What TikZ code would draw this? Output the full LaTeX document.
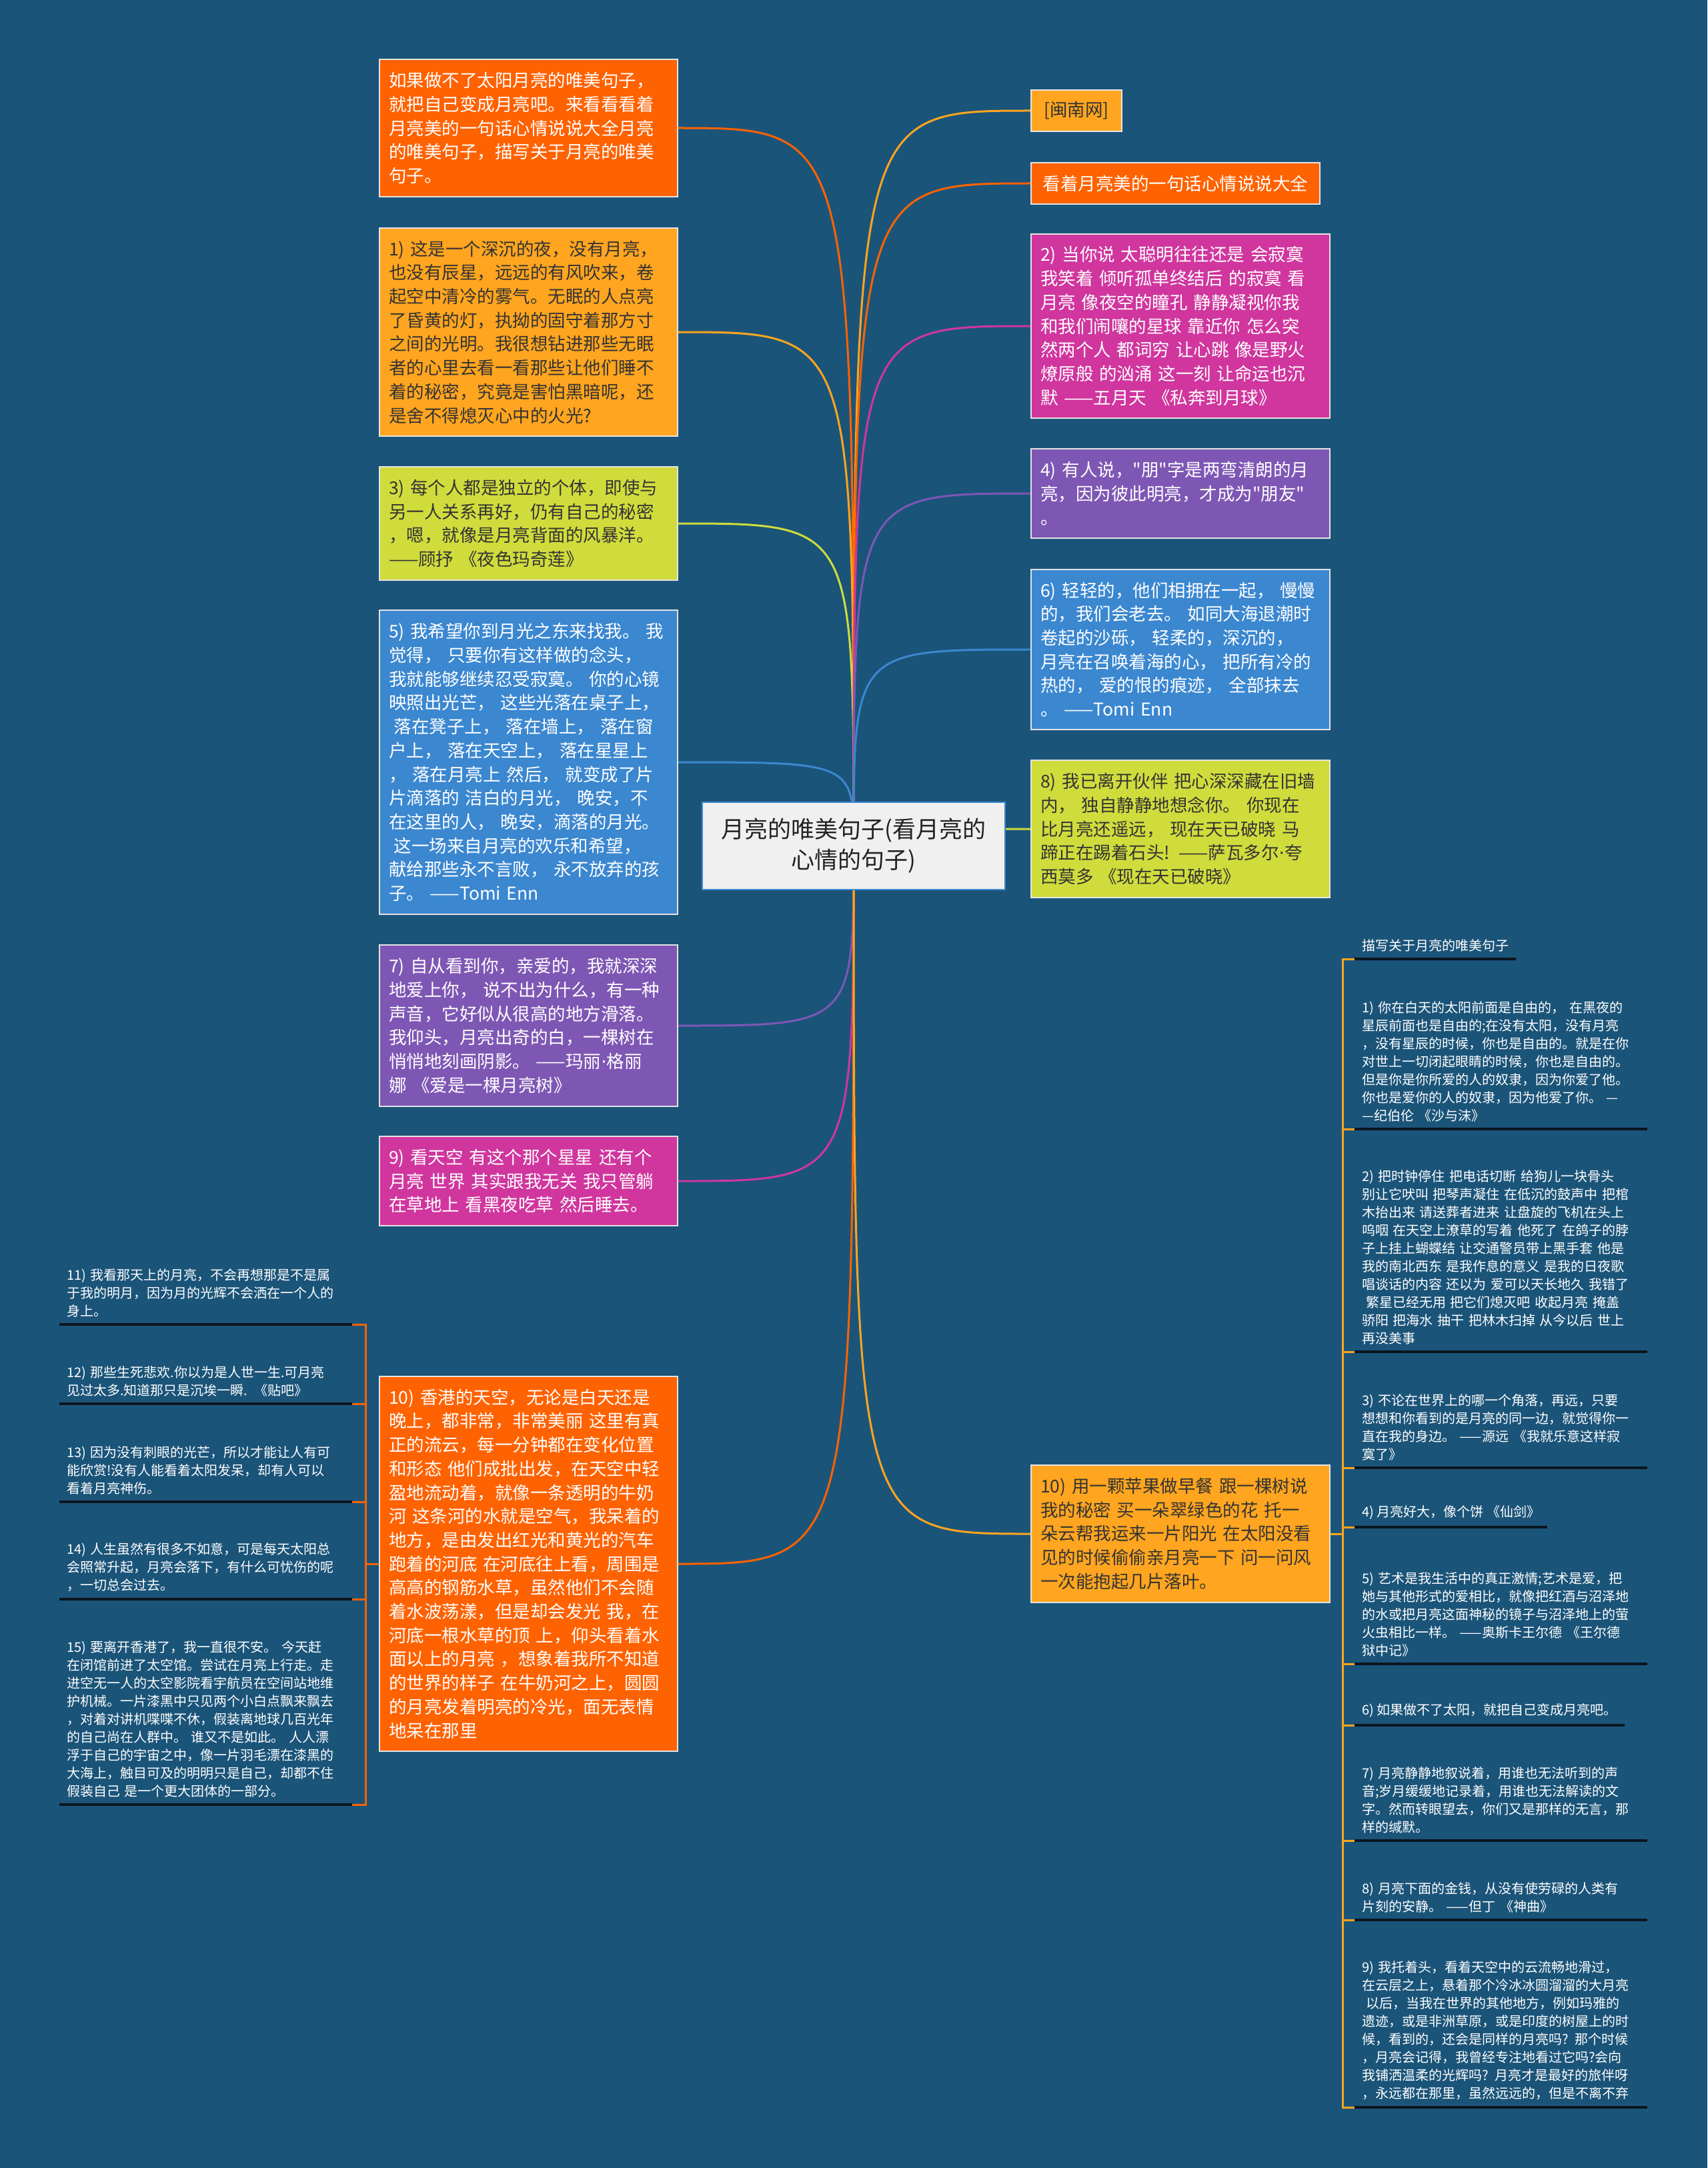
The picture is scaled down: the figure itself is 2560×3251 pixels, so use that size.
\documentclass[tikz,border=0pt]{standalone}
\usepackage{fontspec}
\setmainfont{Noto Sans CJK SC}[Ligatures=TeXOff]
\newfontfamily\dotfont{DejaVu Sans}
\newcommand{\mdot}{{\dotfont ·}}
\pgfdeclarelayer{bglayer}
\pgfdeclarelayer{edgelayer}
\pgfsetlayers{bglayer,edgelayer,main}
\definecolor{bgc}{HTML}{1B5479}
\definecolor{cRed}{HTML}{FF6200}
\definecolor{cOrg}{HTML}{FFA51F}
\definecolor{cYel}{HTML}{D0DC3C}
\definecolor{cBlu}{HTML}{3B87D0}
\definecolor{cPur}{HTML}{7E57B4}
\definecolor{cMag}{HTML}{D0369E}
\definecolor{cTxt}{HTML}{333333}
\definecolor{bord}{HTML}{E4E4E4}
\definecolor{ulc}{HTML}{0B1620}
\definecolor{ctrfill}{HTML}{F0F0F0}
\definecolor{ctrbord}{HTML}{3B87D0}
\definecolor{ctrtxt}{HTML}{222222}
\tikzset{
  freeright/.style={execute at begin node={\rightskip=0pt plus 1fil minus 2000pt\relax}},
  mbox/.style={draw=bord, line width=2pt, inner xsep=14pt, inner ysep=19pt, anchor=west,
    text width=#1, font=\fontsize{26.5}{35.7}\selectfont, freeright},
  mbox/.default=419pt,
  sbox/.style={draw=bord, line width=2pt, inner xsep=14pt, inner ysep=10pt, anchor=west,
    minimum height=62pt, font=\fontsize{26.5}{35.7}\selectfont},
  ctrbox/.style={draw=ctrbord, fill=ctrfill, line width=2pt, minimum width=454pt, minimum height=131pt,
    align=center, text=ctrtxt, font=\fontsize{35}{46}\selectfont},
  litem/.style={anchor=south west, inner xsep=11pt, inner ysep=11pt, text=white,
    font=\fontsize{20}{27}\selectfont},
  wide/.style={text width=417pt, freeright},
  uline/.style={draw=ulc, line width=3.5pt},
  conn/.style={line width=3pt},
  brk/.style={line width=3pt},
}
\begin{document}
\begin{tikzpicture}[x=1pt,y=-1pt]
\begin{pgfonlayer}{bglayer}
\fill[bgc] (0,0) rectangle (2560,3251);
\end{pgfonlayer}
\useasboundingbox (0,0) rectangle (2560,3251);

% centre
\node[ctrbox] (ctr) at (1280,1268) {月亮的唯美句子(看月亮的\\心情的句子)};

% left column
\node[mbox, fill=cRed, text=white] (A) at (568,192) {如果做不了太阳月亮的唯美句子，\\就把自己变成月亮吧。来看看看着\\月亮美的一句话心情说说大全月亮\\的唯美句子，描写关于月亮的唯美\\句子。};
\node[mbox, fill=cOrg, text=cTxt] (B1) at (568,498) {1) 这是一个深沉的夜，没有月亮，\\也没有辰星，远远的有风吹来，卷\\起空中清冷的雾气。无眠的人点亮\\了昏黄的灯，执拗的固守着那方寸\\之间的光明。我很想钻进那些无眠\\者的心里去看一看那些让他们睡不\\着的秘密，究竟是害怕黑暗呢，还\\是舍不得熄灭心中的火光?};
\node[mbox, fill=cYel, text=cTxt] (B3) at (568,785) {3) 每个人都是独立的个体，即使与\\另一人关系再好，仍有自己的秘密\\，嗯，就像是月亮背面的风暴洋。\\——顾抒 《夜色玛奇莲》};
\node[mbox, fill=cBlu, text=white] (B5) at (568,1143) {5) 我希望你到月光之东来找我。 我\\觉得， 只要你有这样做的念头，\\我就能够继续忍受寂寞。 你的心镜\\映照出光芒， 这些光落在桌子上，\\\hspace*{0.3em}落在凳子上， 落在墙上， 落在窗\\户上， 落在天空上， 落在星星上\\， 落在月亮上 然后， 就变成了片\\片滴落的 洁白的月光， 晚安，不\\在这里的人， 晚安，滴落的月光。\\\hspace*{0.3em}这一场来自月亮的欢乐和希望，\\献给那些永不言败， 永不放弃的孩\\子。 ——Tomi Enn};
\node[mbox, fill=cPur, text=white] (B7) at (568,1538) {7) 自从看到你，亲爱的，我就深深\\地爱上你， 说不出为什么，有一种\\声音，它好似从很高的地方滑落。\\我仰头，月亮出奇的白，一棵树在\\悄悄地刻画阴影。 ——玛丽\mdot 格丽\\娜 《爱是一棵月亮树》};
\node[mbox, fill=cMag, text=white] (B9) at (568,1771) {9) 看天空 有这个那个星星 还有个\\月亮 世界 其实跟我无关 我只管躺\\在草地上 看黑夜吃草 然后睡去。};
\node[mbox, fill=cRed, text=white] (B10) at (568,2345) {10) 香港的天空，无论是白天还是\\晚上，都非常，非常美丽 这里有真\\正的流云，每一分钟都在变化位置\\和形态 他们成批出发，在天空中轻\\盈地流动着，就像一条透明的牛奶\\河 这条河的水就是空气，我呆着的\\地方，是由发出红光和黄光的汽车\\跑着的河底 在河底往上看，周围是\\高高的钢筋水草，虽然他们不会随\\着水波荡漾，但是却会发光 我，在\\河底一根水草的顶 上，仰头看着水\\面以上的月亮 ，想象着我所不知道\\的世界的样子 在牛奶河之上，圆圆\\的月亮发着明亮的冷光，面无表情\\地呆在那里};

% right column
\node[sbox, fill=cOrg, text=cTxt, minimum width=136pt] (R1) at (1545,166) {[闽南网]};
\node[sbox, fill=cRed, text=white, minimum width=433pt] (R2) at (1545,275) {看着月亮美的一句话心情说说大全};
\node[mbox=420pt, fill=cMag, text=white] (R3) at (1545,489) {2) 当你说 太聪明往往还是 会寂寞\\我笑着 倾听孤单终结后 的寂寞 看\\月亮 像夜空的瞳孔 静静凝视你我\\和我们闹嚷的星球 靠近你 怎么突\\然两个人 都词穷 让心跳 像是野火\\燎原般 的汹涌 这一刻 让命运也沉\\默 ——五月天 《私奔到月球》};
\node[mbox=420pt, fill=cPur, text=white] (R4) at (1545,740) {4) 有人说，"朋"字是两弯清朗的月\\亮，因为彼此明亮，才成为"朋友"\\。};
\node[mbox=420pt, fill=cBlu, text=white] (R6) at (1545,974) {6) 轻轻的，他们相拥在一起， 慢慢\\的，我们会老去。 如同大海退潮时\\卷起的沙砾， 轻柔的，深沉的，\\月亮在召唤着海的心， 把所有冷的\\热的， 爱的恨的痕迹， 全部抹去\\。 ——Tomi Enn};
\node[mbox=420pt, fill=cYel, text=cTxt] (R8) at (1545,1243) {8) 我已离开伙伴 把心深深藏在旧墙\\内， 独自静静地想念你。 你现在\\比月亮还遥远， 现在天已破晓 马\\蹄正在踢着石头! ——萨瓦多尔\mdot 夸\\西莫多 《现在天已破晓》};
\node[mbox=420pt, fill=cOrg, text=cTxt] (R10) at (1545,2300) {10) 用一颗苹果做早餐 跟一棵树说\\我的秘密 买一朵翠绿色的花 托一\\朵云帮我运来一片阳光 在太阳没看\\见的时候偷偷亲月亮一下 问一问风\\一次能抱起几片落叶。};

% right list
\node[litem] (j0) at (2031,1438) {描写关于月亮的唯美句子};
\node[litem, wide] (j1) at (2031,1693) {1) 你在白天的太阳前面是自由的， 在黑夜的\\星辰前面也是自由的;在没有太阳，没有月亮\\，没有星辰的时候，你也是自由的。就是在你\\对世上一切闭起眼睛的时候，你也是自由的。\\但是你是你所爱的人的奴隶，因为你爱了他。\\你也是爱你的人的奴隶，因为他爱了你。 —\\—纪伯伦 《沙与沫》};
\node[litem, wide] (j2) at (2031,2027) {2) 把时钟停住 把电话切断 给狗儿一块骨头\\别让它吠叫 把琴声凝住 在低沉的鼓声中 把棺\\木抬出来 请送葬者进来 让盘旋的飞机在头上\\呜咽 在天空上潦草的写着 他死了 在鸽子的脖\\子上挂上蝴蝶结 让交通警员带上黑手套 他是\\我的南北西东 是我作息的意义 是我的日夜歌\\唱谈话的内容 还以为 爱可以天长地久 我错了\\\hspace*{0.3em}繁星已经无用 把它们熄灭吧 收起月亮 掩盖\\骄阳 把海水 抽干 把林木扫掉 从今以后 世上\\再没美事};
\node[litem, wide] (j3) at (2031,2201) {3) 不论在世界上的哪一个角落，再远，只要\\想想和你看到的是月亮的同一边，就觉得你一\\直在我的身边。 ——源远 《我就乐意这样寂\\寞了》};
\node[litem] (j4) at (2031,2290) {4) 月亮好大，像个饼 《仙剑》};
\node[litem, wide] (j5) at (2031,2495) {5) 艺术是我生活中的真正激情;艺术是爱，把\\她与其他形式的爱相比，就像把红酒与沼泽地\\的水或把月亮这面神秘的镜子与沼泽地上的萤\\火虫相比一样。 ——奥斯卡王尔德 《王尔德\\狱中记》};
\node[litem] (j6) at (2031,2587) {6) 如果做不了太阳，就把自己变成月亮吧。};
\node[litem, wide] (j7) at (2031,2760) {7) 月亮静静地叙说着，用谁也无法听到的声\\音;岁月缓缓地记录着，用谁也无法解读的文\\字。然而转眼望去，你们又是那样的无言，那\\样的缄默。};
\node[litem, wide] (j8) at (2031,2879) {8) 月亮下面的金钱，从没有使劳碌的人类有\\片刻的安静。 ——但丁 《神曲》};
\node[litem, wide] (j9) at (2031,3160) {9) 我托着头，看着天空中的云流畅地滑过，\\在云层之上，悬着那个冷冰冰圆溜溜的大月亮\\\hspace*{0.3em}以后，当我在世界的其他地方，例如玛雅的\\遗迹，或是非洲草原，或是印度的树屋上的时\\候，看到的，还会是同样的月亮吗? 那个时候\\，月亮会记得，我曾经专注地看过它吗?会向\\我铺洒温柔的光辉吗? 月亮才是最好的旅伴呀\\，永远都在那里，虽然远远的，但是不离不弃};

% left list
\node[litem, wide] (i11) at (89,1986) {11) 我看那天上的月亮，不会再想那是不是属\\于我的明月，因为月的光辉不会洒在一个人的\\身上。};
\node[litem, wide] (i12) at (89,2105) {12) 那些生死悲欢.你以为是人世一生.可月亮\\见过太多.知道那只是沉埃一瞬. 《贴吧》};
\node[litem, wide] (i13) at (89,2252) {13) 因为没有刺眼的光芒，所以才能让人有可\\能欣赏!没有人能看着太阳发呆，却有人可以\\看着月亮神伤。};
\node[litem, wide] (i14) at (89,2398) {14) 人生虽然有很多不如意，可是每天太阳总\\会照常升起，月亮会落下，有什么可忧伤的呢\\，一切总会过去。};
\node[litem, wide] (i15) at (89,2706) {15) 要离开香港了，我一直很不安。 今天赶\\在闭馆前进了太空馆。尝试在月亮上行走。走\\进空无一人的太空影院看宇航员在空间站地维\\护机械。一片漆黑中只见两个小白点飘来飘去\\，对着对讲机喋喋不休，假装离地球几百光年\\的自己尚在人群中。 谁又不是如此。 人人漂\\浮于自己的宇宙之中，像一片羽毛漂在漆黑的\\大海上，触目可及的明明只是自己，却都不住\\假装自己 是一个更大团体的一部分。};

\coordinate (rb) at (2013,2300);
\coordinate (lb) at (548,2345);

\begin{pgfonlayer}{edgelayer}
% centre connectors
\foreach \n/\c in {A/cRed,B1/cOrg,B3/cYel,B5/cBlu,B7/cPur,B9/cMag,B10/cRed}{
  \draw[conn, \c] (ctr.center) .. controls (ctr.center |- \n.east) .. (\n.east);
}
\foreach \n/\c in {R1/cOrg,R2/cRed,R3/cMag,R4/cPur,R6/cBlu,R8/cYel,R10/cOrg}{
  \draw[conn, \c] (ctr.center) .. controls (ctr.center |- \n.west) .. (\n.west);
}
% right list bracket
\foreach \n in {j0,j1,j2,j3,j4,j5,j6,j7,j8,j9}{
  \draw[brk, cOrg] (R10.east) -- (rb) |- (\n.south west);
}
% left list bracket
\foreach \n in {i11,i12,i13,i14,i15}{
  \draw[brk, cRed] (B10.west) -- (lb) |- (\n.south east);
}
\end{pgfonlayer}

% underlines
\foreach \n in {j0,j1,j2,j3,j4,j5,j6,j7,j8,j9,i11,i12,i13,i14,i15}{
  \draw[uline] (\n.south west) -- (\n.south east);
}
\end{tikzpicture}
\end{document}
